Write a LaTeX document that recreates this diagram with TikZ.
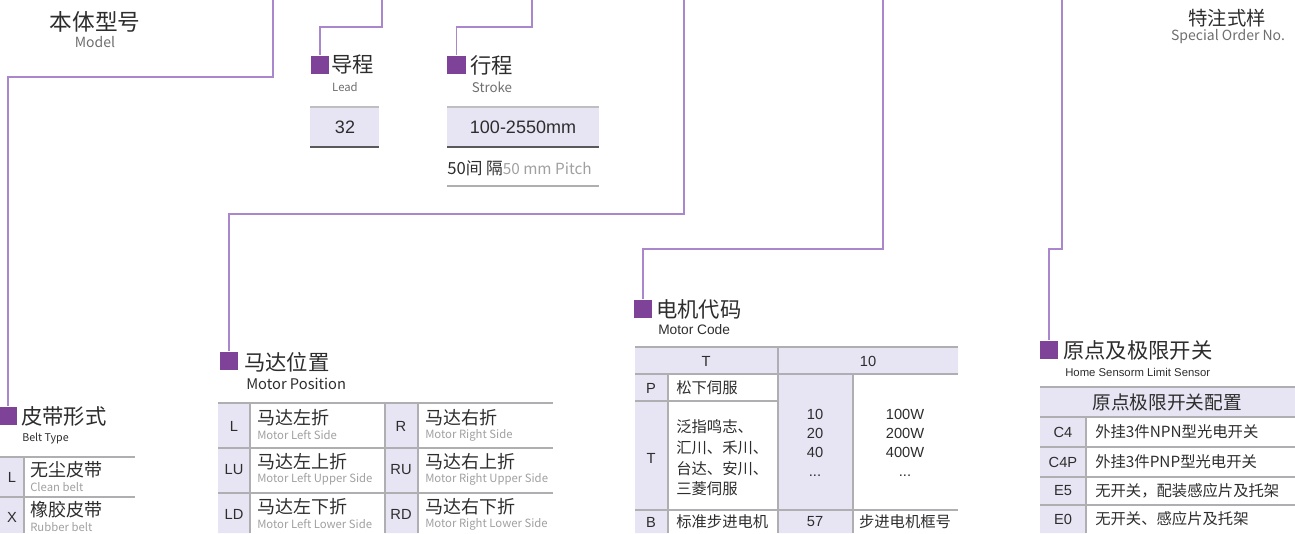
\documentclass[tikz,border=0pt]{standalone}
\usepackage{fontspec}
\setmainfont{Noto Sans CJK SC}
\newfontfamily\arialf{Liberation Sans}
\definecolor{purp}{RGB}{126,66,152}
\definecolor{wirec}{RGB}{170,135,205}
\definecolor{cellc}{RGB}{231,229,243}
\definecolor{rulec}{RGB}{175,175,178}
\definecolor{txt}{RGB}{45,45,45}
\definecolor{engc}{RGB}{110,110,110}
\definecolor{lightc}{RGB}{160,160,160}

\begin{document}
\begin{tikzpicture}[x=0.75pt,y=-0.75pt,
  wire/.style={draw=wirec,line width=0.9pt},
  sqbox/.style={fill=purp,minimum size=14pt,inner sep=0pt},
  title/.style={anchor=west,inner sep=0pt,text=txt,font=\fontsize{16}{18}\selectfont},
  sub/.style={anchor=west,inner sep=0pt,text=engc,font=\fontsize{8}{9}\selectfont},
  rule/.style={draw=rulec,line width=0.8pt},
  code/.style={inner sep=0pt,text=txt,font=\arialf\fontsize{11}{13}\selectfont},
  zh/.style={anchor=west,inner sep=0pt,text=txt,font=\fontsize{11.5}{15.5}\selectfont},
  big/.style={anchor=west,inner sep=0pt,text=txt,font=\fontsize{13.5}{15}\selectfont},
  small/.style={anchor=west,inner sep=0pt,text=lightc,font=\fontsize{8.5}{10}\selectfont},
  num/.style={inner sep=0pt,text=txt,align=center,font=\arialf\fontsize{11}{14.3}\selectfont}]
\useasboundingbox (0,0) rectangle (1295,533);

% top labels
\node[inner sep=0pt,text=txt,font=\fontsize{17}{19}\selectfont] (model) at (95,22) {本体型号};
\node[inner sep=0pt,text=engc,font=\fontsize{10.5}{12}\selectfont] (modelen) at (95,42) {Model};
\node[inner sep=0pt,text=txt,font=\fontsize{14.5}{16}\selectfont] (special) at (1227,18) {特注式样};
\node[inner sep=0pt,text=engc,font=\fontsize{10.5}{12}\selectfont] (specialen) at (1228,37) {Special Order No.};

% lead and stroke
\node[sqbox] (sqLead) at (320,65) {};
\node[title] (lead) at (331,65) {导程};
\node[sub,anchor=center,font=\fontsize{8.5}{10}\selectfont] (leaden) at (345,87) {Lead};
\node[sqbox] (sqStroke) at (456.5,65) {};
\node[title] (stroke) at (470,65) {行程};
\node[sub,anchor=center,font=\fontsize{10}{12}\selectfont] (strokeen) at (492,87) {Stroke};

\fill[cellc] (310,107) rectangle (379,147);
\draw[draw=rulec!80,line width=1.1pt] (310,107) -- (379,107);
\draw[draw=black!65,line width=0.9pt] (310,147) -- (379,147);
\node[inner sep=0pt,text=txt,font=\arialf\fontsize{13.5}{15}\selectfont] (leadval) at (345,127) {32};

\fill[cellc] (447,107) rectangle (599,147);
\draw[draw=rulec!80,line width=1.1pt] (447,107) -- (599,107);
\draw[draw=black!65,line width=0.9pt] (447,147) -- (599,147);
\node[inner sep=0pt,text=txt,font=\arialf\fontsize{13.5}{15}\selectfont] (strokeval) at (523,127) {100-2550mm};
\node[inner sep=0pt,anchor=west,text=txt] (pitch) at (447,168)
  {{\fontsize{12.5}{14}\selectfont 50间 隔}{\color{lightc}\fontsize{11.5}{13}\selectfont 50 mm Pitch}};
\draw[rule,line width=1.1pt] (447,186) -- (599,186);

% belt type
\node[sqbox] (sqBelt) at (8,416) {};
\node[title] (belt) at (21,416) {皮带形式};
\node[sub,text=txt] (belten) at (22,438) {Belt Type};
\fill[cellc] (0,457) rectangle (24,533);
\draw[rule] (0,457) -- (135,457) (0,497) -- (135,497) (24,457) -- (24,533);
\node[code] (bL) at (12,477) {L};
\node[big] (bLzh) at (30,470) {无尘皮带};
\node[small] (bLen) at (30,487) {Clean belt};
\node[code] (bX) at (12,517) {X};
\node[big] (bXzh) at (30,510) {橡胶皮带};
\node[small] (bXen) at (30,527) {Rubber belt};

% motor position
\node[sqbox] (sqPos) at (229,361) {};
\node[title] (pos) at (244,362) {马达位置};
\node[sub,text=txt,font=\fontsize{11}{13}\selectfont] (posen) at (246,384) {Motor Position};
\fill[cellc] (218,403) rectangle (250,533) (385,403) rectangle (418,533);
\draw[rule] (218,403) -- (553,403) (218,448) -- (553,448) (218,493) -- (553,493)
  (250,403) -- (250,533) (385,403) -- (385,533) (418,403) -- (418,533);
\node[code] (pL) at (234,426) {L};
\node[big] (pLzh) at (257,418) {马达左折};
\node[small] (pLen) at (257,435) {Motor Left Side};
\node[code] (pR) at (401,426) {R};
\node[big] (pRzh) at (425,418) {马达右折};
\node[small] (pRen) at (425,435) {Motor Right Side};
\node[code] (pLU) at (234,470) {LU};
\node[big] (pLUzh) at (257,462) {马达左上折};
\node[small] (pLUen) at (257,479) {Motor Left Upper Side};
\node[code] (pRU) at (401,470) {RU};
\node[big] (pRUzh) at (425,462) {马达右上折};
\node[small] (pRUen) at (425,479) {Motor Right Upper Side};
\node[code] (pLD) at (234,514) {LD};
\node[big] (pLDzh) at (257,507) {马达左下折};
\node[small] (pLDen) at (257,524) {Motor Left Lower Side};
\node[code] (pRD) at (401,514) {RD};
\node[big] (pRDzh) at (425,507) {马达右下折};
\node[small] (pRDen) at (425,524) {Motor Right Lower Side};

% motor code
\node[sqbox] (sqCode) at (643,309) {};
\node[title] (mcode) at (656,309) {电机代码};
\node[sub,text=txt,font=\arialf\fontsize{10.3}{12}\selectfont] (mcodeen) at (658,330) {Motor Code};
\fill[cellc] (635,347) rectangle (958,374) (635,374) rectangle (668,533) (778,374) rectangle (853,533);
\draw[rule] (635,347) -- (958,347) (635,374) -- (958,374) (635,401) -- (778,401)
  (635,510) -- (958,510) (668,374) -- (668,533) (778,347) -- (778,533) (853,374) -- (853,533);
\node[code] (hT) at (706,361) {T};
\node[code] (h10) at (868,361) {10};
\node[code] (cP) at (651,388) {P};
\node[zh] (cPzh) at (676,388) {松下伺服};
\node[code] (cT) at (651,458) {T};
\node[zh,align=left] (cTzh) at (676,458) {泛指鸣志、\\汇川、禾川、\\台达、安川、\\三菱伺服};
\node[num] (cTnum) at (815,443) {10\\20\\40\\...};
\node[num] (cTw) at (905,443) {100W\\200W\\400W\\...};
\node[code] (cB) at (651,522) {B};
\node[zh] (cBzh) at (676,522) {标准步进电机};
\node[num] (cB57) at (815,522) {57};
\node[zh,anchor=center] (cBfr) at (905,522) {步进电机框号};

% home sensor
\node[sqbox] (sqHome) at (1049,350) {};
\node[title] (home) at (1063,350) {原点及极限开关};
\node[sub,text=txt,font=\arialf\fontsize{8.5}{10}\selectfont] (homeen) at (1065,372) {Home Sensorm Limit Sensor};
\fill[cellc] (1040,387) rectangle (1295,417) (1040,417) rectangle (1086,533);
\draw[rule] (1040,387) -- (1295,387) (1040,417) -- (1295,417) (1040,447) -- (1295,447)
  (1040,477) -- (1295,477) (1040,505) -- (1295,505) (1086,417) -- (1086,533);
\node[inner sep=0pt,text=txt,font=\fontsize{14}{16}\selectfont] (hhead) at (1167,402) {原点极限开关配置};
\node[code] (hC4) at (1063,432) {C4};
\node[zh] (hC4zh) at (1095,432) {外挂3件NPN型光电开关};
\node[code] (hC4P) at (1063,462) {C4P};
\node[zh] (hC4Pzh) at (1095,462) {外挂3件PNP型光电开关};
\node[code] (hE5) at (1063,491) {E5};
\node[zh] (hE5zh) at (1095,491) {无开关，配装感应片及托架};
\node[code] (hE0) at (1063,519) {E0};
\node[zh] (hE0zh) at (1095,519) {无开关、感应片及托架};

% connectors
\coordinate (tModel) at (273,0);
\coordinate (tLead) at (382,0);
\coordinate (tStroke) at (532,0);
\coordinate (tPos) at (684,0);
\coordinate (tCode) at (883,0);
\coordinate (tHome) at (1062,0);
\draw[wire] (tModel) -- ++(0,77) -| (sqBelt);
\draw[wire] (tLead) -- ++(0,27) -| (sqLead);
\draw[wire] (tStroke) -- ++(0,27) -| (sqStroke);
\draw[wire] (tPos) -- ++(0,214) -| (sqPos);
\draw[wire] (tCode) -- ++(0,249) -| (sqCode);
\draw[wire] (tHome) -- ++(0,249) -| (sqHome);
\end{tikzpicture}
\end{document}
